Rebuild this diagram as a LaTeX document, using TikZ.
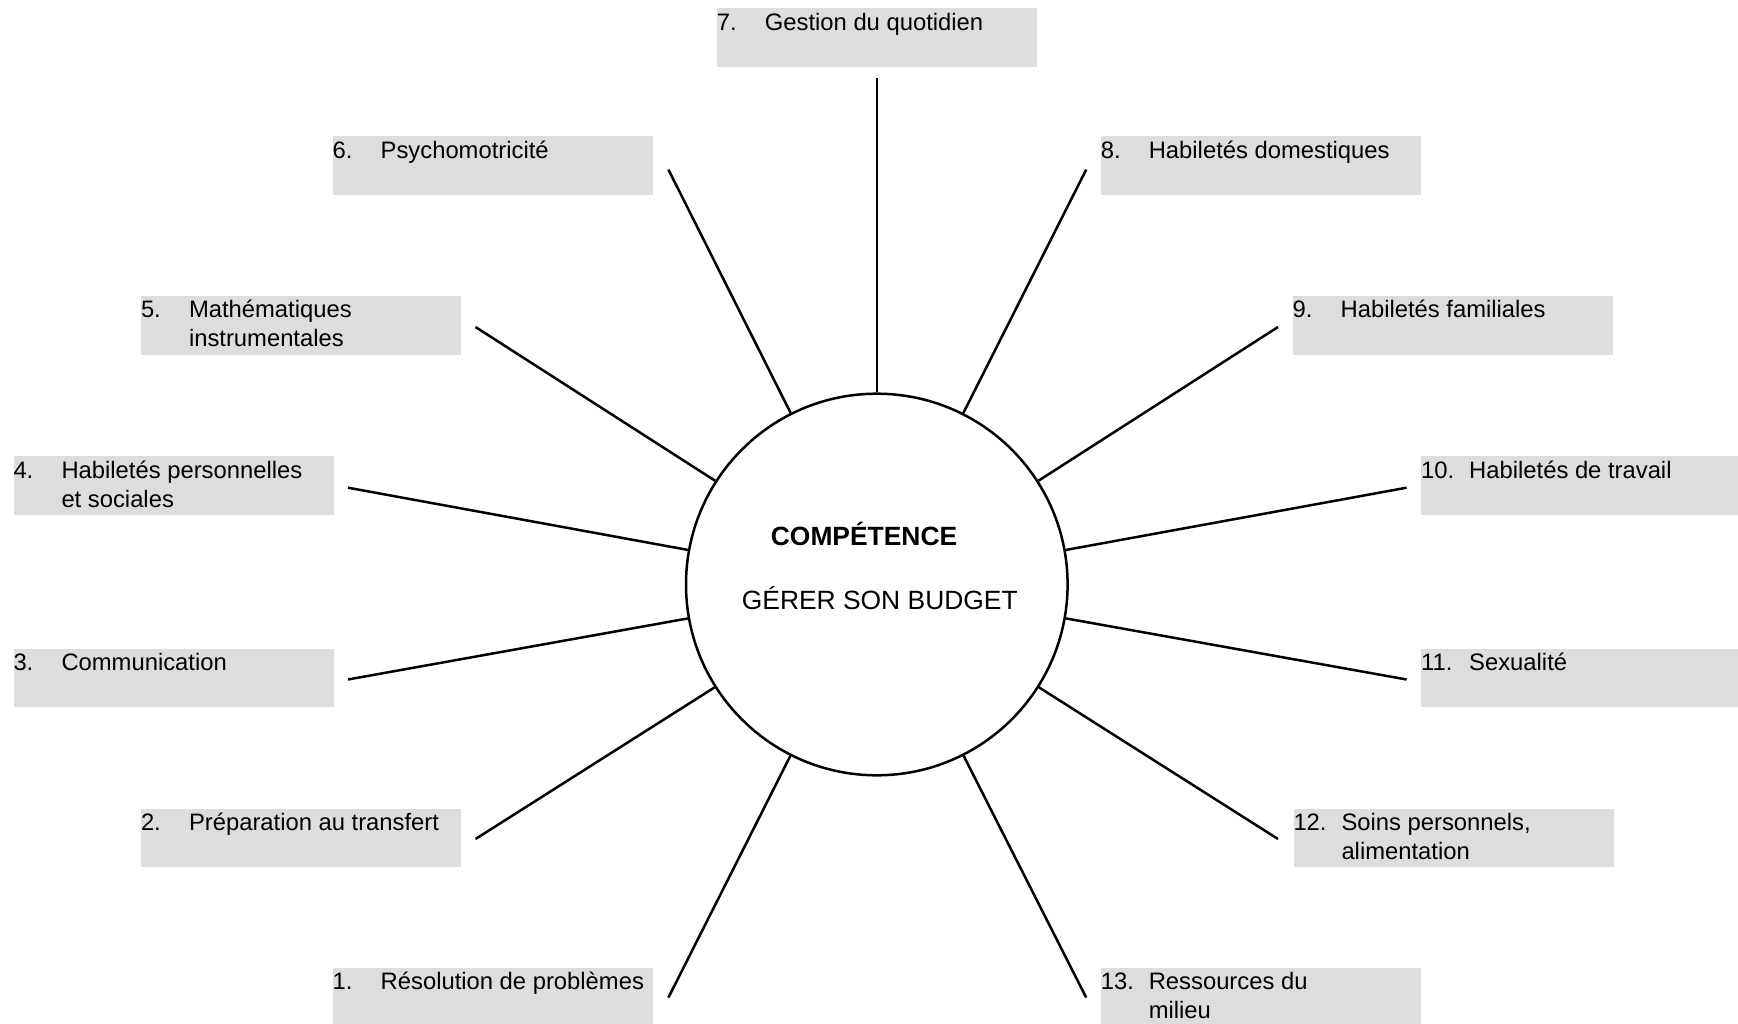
\documentclass[tikz,border=0pt]{standalone}
\usepackage{fontspec}
\setmainfont{Liberation Sans}
\definecolor{boxgray}{RGB}{221,221,221}
\tikzset{
  lblbox/.style={fill=boxgray, draw=none, minimum width=320pt, minimum height=58.4pt, inner sep=0pt, anchor=north west},
  lbltext/.style={inner sep=0pt, anchor=base west, font=\fontsize{23.8}{29}\selectfont},
  spoke/.style={line width=2.5pt},
}
% \lbl{id}{left}{top}{number}{line1}{line2}
\newcommand{\lbl}[6]{%
  \node[lblbox] (b#1) at (#2,#3) {};
  \node[lbltext] (n#1) at ($(#2,#3)+(0,22)$) {#4};
  \node[lbltext] (t#1) at ($(#2,#3)+(48,22)$) {#5};
  \if\relax\detokenize{#6}\relax\else
  \node[lbltext] (u#1) at ($(#2,#3)+(48,51)$) {#6};
  \fi
}
\usetikzlibrary{calc}
\begin{document}
\begin{tikzpicture}[x=1pt,y=-1pt]
\useasboundingbox (0,0) rectangle (1738,1024);
\lbl{1}{332.5}{967.7}{1.}{Résolution de problèmes}{}
\lbl{2}{140.8}{808.3}{2.}{Préparation au transfert}{}
\lbl{3}{13.3}{648.3}{3.}{Communication}{}
\lbl{4}{13.3}{456}{4.}{Habiletés personnelles}{et sociales}
\lbl{5}{140.8}{296}{5.}{Mathématiques}{instrumentales}
\lbl{6}{332.5}{136.3}{6.}{Psychomotricité}{}
\lbl{7}{716.7}{8.3}{7.}{Gestion du quotidien}{}
\lbl{8}{1100.6}{136.3}{8.}{Habiletés domestiques}{}
\lbl{9}{1292.4}{296}{9.}{Habiletés familiales}{}
\lbl{10}{1421}{456}{10.}{Habiletés de travail}{}
\lbl{11}{1421}{648.3}{11.}{Sexualité}{}
\lbl{12}{1293.3}{808.3}{12.}{Soins personnels,}{alimentation}
\lbl{13}{1100.6}{967.7}{13.}{Ressources du}{milieu}

\node[circle, draw, line width=2.5pt, minimum size=381.6pt, inner sep=0pt] (c) at (876.8,584.5) {};
\node[inner sep=0pt, anchor=base west, font=\fontsize{26.4}{30}\selectfont\bfseries] (comp) at (770.7,545) {COMPÉTENCE};
\node[inner sep=0pt, anchor=base west, font=\fontsize{26.4}{30}\selectfont] (gerer) at (741.7,609.5) {GÉRER SON BUDGET};

\coordinate (p7) at (876.8,77.6);
\coordinate (p6) at (668.4,169.6);
\coordinate (p8) at (1086.2,169.6);
\coordinate (p5) at (475.5,327);
\coordinate (p9) at (1278,327);
\coordinate (p4) at (348,487.7);
\coordinate (p10) at (1406.6,487.7);
\coordinate (p3) at (348,679.5);
\coordinate (p11) at (1406.6,679.5);
\coordinate (p2) at (475.5,839);
\coordinate (p12) at (1278,839);
\coordinate (p1) at (668.4,997.6);
\coordinate (p13) at (1086.2,997.6);
\foreach \i in {1,...,13} { \draw[spoke] (p\i) -- (c); }
\end{tikzpicture}
\end{document}
